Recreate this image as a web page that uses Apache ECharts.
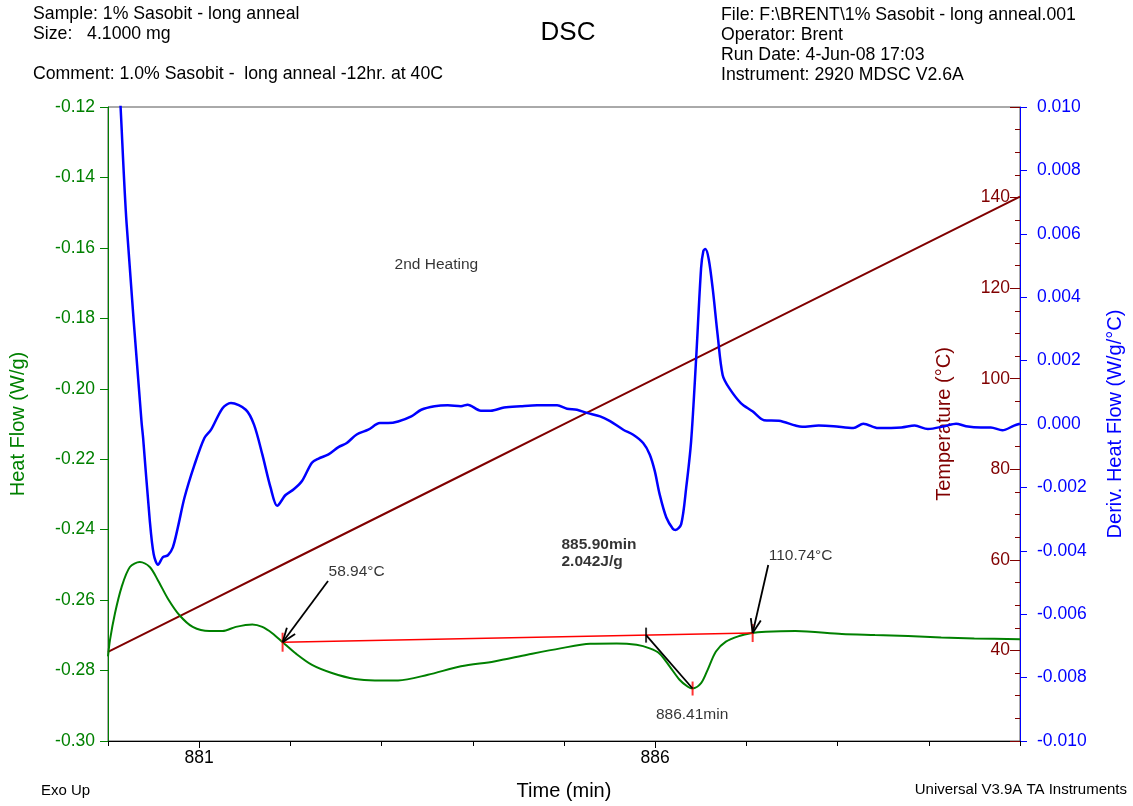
<!DOCTYPE html>
<html>
<head>
<meta charset="utf-8">
<script src="https://cdn.jsdelivr.net/npm/echarts@6/dist/echarts.min.js"></script>
<style>
  html, body { margin: 0; padding: 0; background: #fff; }
  #chart { width: 1133px; height: 806px; }
</style>
</head>
<body>
<div id="chart"></div>
<script>
// ---- Heat flow signal (W/g) vs time (min) ----
const heatFlowTime = [
  880.000, 880.022, 880.076, 880.149, 880.240, 880.349, 880.458, 880.548, 880.657, 880.784,
  880.929, 881.111, 881.256, 881.402, 881.583, 881.692, 881.801, 881.921, 882.056, 882.237,
  882.455, 882.709, 882.927, 883.181, 883.508, 883.870, 884.234, 884.597, 884.960, 885.287,
  885.577, 885.795, 885.940, 886.049, 886.158, 886.267, 886.358, 886.410, 886.503, 886.575,
  886.666, 886.775, 886.920, 887.048, 887.211, 887.538, 888.047, 888.410, 888.772, 889.136,
  889.499, 890.000
];
const heatFlowValue = [
  -0.2760, -0.2713, -0.2638, -0.2563, -0.2506, -0.2492, -0.2506, -0.2544, -0.2596, -0.2643,
  -0.2676, -0.2688, -0.2688, -0.2676, -0.2669, -0.2676, -0.2694, -0.2721, -0.2751, -0.2784,
  -0.2807, -0.2824, -0.2828, -0.2828, -0.2812, -0.2788, -0.2774, -0.2755, -0.2737, -0.2724,
  -0.2723, -0.2727, -0.2737, -0.2752, -0.2788, -0.2826, -0.2846, -0.2851, -0.2836, -0.2798,
  -0.2746, -0.2718, -0.2702, -0.2694, -0.2690, -0.2688, -0.2696, -0.2699, -0.2702, -0.2706,
  -0.2709, -0.2711
];

// ---- Derivative of heat flow (W/g/°C) vs time (min) ----
const derivTime = [
  880.109, 880.138, 880.203, 880.367, 880.385, 880.458, 880.501, 880.548, 880.602, 880.657,
  880.711, 880.766, 880.839, 880.948, 881.057, 881.130, 881.256, 881.348, 881.511, 881.601,
  881.692, 881.783, 881.855, 881.947, 882.037, 882.127, 882.236, 882.309, 882.418, 882.527,
  882.618, 882.727, 882.854, 882.981, 883.072, 883.181, 883.326, 883.435, 883.581, 883.725,
  883.870, 883.943, 884.088, 884.197, 884.343, 884.524, 884.706, 884.924, 885.033, 885.142,
  885.251, 885.396, 885.505, 885.650, 885.759, 885.868, 885.940, 885.995, 886.049, 886.122,
  886.195, 886.223, 886.285, 886.340, 886.394, 886.449, 886.503, 886.528, 886.550, 886.587,
  886.631, 886.685, 886.740, 886.812, 886.939, 887.067, 887.193, 887.356, 887.538, 887.611,
  887.792, 887.955, 888.173, 888.282, 888.445, 888.700, 888.845, 888.990, 889.172, 889.299,
  889.408, 889.571, 889.680, 889.807, 889.935, 890.000
];
const derivValue = [
  0.01163, 0.01000, 0.00636, 0.00009, -0.00044, -0.00304, -0.00411, -0.00444, -0.00420, -0.00414,
  -0.00389, -0.00326, -0.00232, -0.00129, -0.00044, -0.00018, 0.00050, 0.00066, 0.00045, -0.00002,
  -0.00096, -0.00201, -0.00258, -0.00224, -0.00206, -0.00180, -0.00122, -0.00109, -0.00096, -0.00073,
  -0.00060, -0.00033, -0.00018, 0.00003, 0.00003, 0.00008, 0.00024, 0.00045, 0.00056, 0.00059,
  0.00056, 0.00061, 0.00042, 0.00042, 0.00052, 0.00056, 0.00059, 0.00059, 0.00048, 0.00045,
  0.00035, 0.00024, 0.00009, -0.00018, -0.00034, -0.00060, -0.00096, -0.00148, -0.00222, -0.00295,
  -0.00331, -0.00334, -0.00316, -0.00201, -0.00054, 0.00207, 0.00491, 0.00546, 0.00552, 0.00520,
  0.00426, 0.00280, 0.00154, 0.00113, 0.00066, 0.00040, 0.00012, 0.00010, -0.00005, -0.00009,
  -0.00005, -0.00007, -0.00013, 0.00001, -0.00013, -0.00011, -0.00005, -0.00016, -0.00007, 0.00001,
  -0.00007, -0.00011, -0.00011, -0.00020, -0.00005, 0.00001
];

// ---- Sample temperature (°C) vs time (min) ----
const tempTime  = [880, 881, 882, 883, 884, 885, 886, 887, 888, 889, 890];
const tempValue = [39.7, 49.75, 59.8, 69.85, 79.9, 89.95, 100.0, 110.05, 120.1, 130.15, 140.2];

// ---- Labelled ticks on the time axis ----
const timeLabelTicks = [881, 886];

// ---- Peak integration results ----
const onsetTemp = 58.94;     // °C, baseline start
const endTemp = 110.74;      // °C, baseline end
const splitTime = 885.90;    // min, integration split
const peakTime = 886.41;     // min, peak minimum
const enthalpy = 2.042;      // J/g

const FONT = '"Liberation Sans", Arial, Helvetica, sans-serif';
const GREEN = '#008000', BLUE = '#0000ff', MAROON = '#800000', RED = '#ff0000';

function zip(xs, ys) { return xs.map((x, i) => [x, ys[i]]); }
function interp(xs, ys, x) {
  for (let i = 1; i < xs.length; i++) {
    if (x <= xs[i]) {
      const f = (x - xs[i - 1]) / (xs[i] - xs[i - 1]);
      return ys[i - 1] + f * (ys[i] - ys[i - 1]);
    }
  }
  return ys[ys.length - 1];
}

// baseline end points sit on the heat flow curve at the onset/end temperatures
const onsetTime = interp(tempValue, tempTime, onsetTemp);
const endTime = interp(tempValue, tempTime, endTemp);
const onsetHF = interp(heatFlowTime, heatFlowValue, onsetTime);
const endHF = interp(heatFlowTime, heatFlowValue, endTime);
const baselineAt = t => onsetHF + (t - onsetTime) / (endTime - onsetTime) * (endHF - onsetHF);
const peakHF = interp(heatFlowTime, heatFlowValue, peakTime);
const splitHF = baselineAt(splitTime);

// annotation arrow tails, offset from the point each arrow points at
const onsetHead = [onsetTime, onsetHF];
const endHead = [endTime, endHF];
const onsetTail = [onsetTime + 0.498, onsetHF + 0.0174];
const endTail = [endTime + 0.171, endHF + 0.0193];

const chart = echarts.init(document.getElementById('chart'), null, { renderer: 'canvas' });

const tickText = { fontFamily: FONT, fontSize: 17.5 };
const headerText = { fontFamily: FONT, fontSize: 17.7, lineHeight: 20, fill: '#000' };

const pointerLines = [
  { coords: [onsetTail, onsetHead] },
  { coords: [endTail, endHead] },
  { coords: [[splitTime, splitHF], [peakTime, peakHF]] }
];

chart.setOption({
  animation: false,
  backgroundColor: '#fff',
  textStyle: { fontFamily: FONT },
  grid: {
    left: 108, top: 107, width: 918, height: 638,
    show: true, borderColor: '#555', borderWidth: 1, backgroundColor: 'transparent',
    containLabel: false
  },
  graphic: [
    { type: 'text', left: 33, top: 4,
      style: { text: 'Sample: 1% Sasobit - long anneal\nSize:   4.1000 mg', ...headerText } },
    { type: 'text', left: 33, top: 64,
      style: { text: 'Comment: 1.0% Sasobit -  long anneal -12hr. at 40C', ...headerText } },
    { type: 'text', x: 568, y: 33,
      style: { text: 'DSC', fontFamily: FONT, fontSize: 26, fill: '#000', align: 'center', verticalAlign: 'middle' } },
    { type: 'text', left: 721, top: 5,
      style: { text: 'File: F:\\BRENT\\1% Sasobit - long anneal.001\nOperator: Brent\nRun Date: 4-Jun-08 17:03\nInstrument: 2920 MDSC V2.6A', ...headerText } },
    { type: 'text', x: 41, y: 791,
      style: { text: 'Exo Up', fontFamily: FONT, fontSize: 15, fill: '#000', verticalAlign: 'middle' } },
    { type: 'text', x: 1127, y: 790,
      style: { text: 'Universal V3.9A TA Instruments', fontFamily: FONT, fontSize: 15, fill: '#000', align: 'right', verticalAlign: 'middle' } }
  ],
  xAxis: [
    {
      type: 'value', min: 880, max: 890, position: 'bottom',
      axisLine: { show: true, onZero: false, lineStyle: { color: '#000', width: 1 } },
      axisTick: { show: true, customValues: timeLabelTicks, length: 7, lineStyle: { color: '#000' } },
      axisLabel: { customValues: timeLabelTicks, margin: 8, color: '#000', ...tickText },
      splitLine: { show: false },
      name: 'Time (min)', nameLocation: 'middle', nameGap: 40,
      nameTextStyle: { color: '#000', fontSize: 20, fontFamily: FONT }
    },
    {
      type: 'value', min: 880, max: 890, interval: 1, position: 'bottom',
      axisLine: { show: false, onZero: false },
      axisTick: { show: true, length: 5, lineStyle: { color: '#000' } },
      axisLabel: { show: false },
      splitLine: { show: false }
    }
  ],
  yAxis: [
    {
      type: 'value', min: -0.30, max: -0.12, interval: 0.02, position: 'left',
      axisLine: { show: true, onZero: false, lineStyle: { color: GREEN } },
      axisTick: { show: true, length: 8, lineStyle: { color: GREEN } },
      axisLabel: { color: GREEN, margin: 13, ...tickText, formatter: v => v.toFixed(2) },
      splitLine: { show: false },
      name: 'Heat Flow (W/g)', nameLocation: 'middle', nameGap: 80, nameRotate: 90,
      nameTextStyle: { color: GREEN, fontSize: 20, fontFamily: FONT }
    },
    {
      type: 'value', min: 20, max: 160, interval: 20, position: 'right',
      axisLine: { show: false, onZero: false },
      axisTick: { show: true, inside: true, length: 10, lineStyle: { color: MAROON } },
      minorTick: { show: true, splitNumber: 4, length: 5, lineStyle: { color: MAROON } },
      axisLabel: { inside: true, margin: 10, color: MAROON, showMinLabel: false, showMaxLabel: false, ...tickText },
      splitLine: { show: false },
      name: 'Temperature (°C)', nameLocation: 'middle', nameGap: -86, nameRotate: 90,
      nameTextStyle: { color: MAROON, fontSize: 20, fontFamily: FONT }
    },
    {
      type: 'value', min: -0.010, max: 0.010, interval: 0.002, position: 'right',
      axisLine: { show: true, onZero: false, lineStyle: { color: BLUE } },
      axisTick: { show: true, length: 7, lineStyle: { color: BLUE } },
      axisLabel: { color: BLUE, margin: 17, ...tickText,
                   formatter: v => (Math.abs(v) < 1e-9 ? 0 : v).toFixed(3) },
      splitLine: { show: false },
      name: 'Deriv. Heat Flow (W/g/°C)', nameLocation: 'middle', nameGap: 85, nameRotate: 90,
      nameTextStyle: { color: BLUE, fontSize: 20, fontFamily: FONT }
    }
  ],
  series: [
    {
      name: 'Temperature', type: 'line', xAxisIndex: 0, yAxisIndex: 1,
      data: zip(tempTime, tempValue), showSymbol: false,
      lineStyle: { color: MAROON, width: 2 }, z: 2
    },
    {
      name: 'Deriv. Heat Flow', type: 'line', xAxisIndex: 0, yAxisIndex: 2,
      data: zip(derivTime, derivValue), showSymbol: false, smooth: 0.3, clip: true,
      lineStyle: { color: BLUE, width: 2.5 }, z: 3
    },
    {
      name: 'Heat Flow', type: 'line', xAxisIndex: 0, yAxisIndex: 0,
      data: zip(heatFlowTime, heatFlowValue), showSymbol: false, smooth: 0.3,
      lineStyle: { color: GREEN, width: 2 }, z: 4
    },
    {
      id: 'baseline', name: 'Baseline', type: 'line', xAxisIndex: 0, yAxisIndex: 0,
      data: [onsetHead, endHead], showSymbol: false,
      lineStyle: { color: RED, width: 1.5 }, z: 5
    },
    {
      name: 'Limits', type: 'scatter', xAxisIndex: 0, yAxisIndex: 0, symbol: 'rect', z: 6,
      data: [
        { value: onsetHead, symbolSize: [2, 19], itemStyle: { color: RED } },
        { value: endHead, symbolSize: [2, 18], itemStyle: { color: RED } },
        { value: [peakTime, peakHF], symbolSize: [2, 14], itemStyle: { color: RED } },
        { value: [splitTime, splitHF], symbolSize: [2, 15], itemStyle: { color: '#000' } }
      ]
    },
    {
      id: 'pointers', name: 'Pointers', type: 'lines', coordinateSystem: 'cartesian2d',
      xAxisIndex: 0, yAxisIndex: 0, z: 7, symbol: 'none',
      lineStyle: { color: '#000', width: 1.8, opacity: 1, curveness: 0 },
      data: pointerLines
    },
    {
      name: 'Notes', type: 'scatter', xAxisIndex: 0, yAxisIndex: 0, symbolSize: 1,
      itemStyle: { color: 'rgba(0,0,0,0)' }, z: 8, silent: true,
      label: { show: true, color: '#000', fontFamily: FONT, fontSize: 15.5 },
      data: [
        { value: onsetTail, label: { formatter: onsetTemp.toFixed(2) + '°C', position: [0, 0], align: 'left', verticalAlign: 'bottom', offset: [1, -1] } },
        { value: endTail, label: { formatter: endTemp.toFixed(2) + '°C', position: [0, 0], align: 'left', verticalAlign: 'bottom', offset: [1, -1] } },
        { value: [peakTime, peakHF], label: { formatter: peakTime.toFixed(2) + 'min', position: [0, 0], align: 'center', verticalAlign: 'top', offset: [0, 19] } },
        { value: [884.978, -0.2419], label: { formatter: splitTime.toFixed(2) + 'min\n' + enthalpy.toFixed(3) + 'J/g', position: [0, 0], align: 'left', verticalAlign: 'top', fontWeight: 'bold', lineHeight: 17 } },
        { value: [883.148, -0.1648], label: { formatter: '2nd Heating', position: [0, 0], align: 'left', verticalAlign: 'middle' } }
      ]
    }
  ]
});

// Open arrow heads: two short strokes leaving each tip, built in screen space
// so the head keeps its shape whatever the axis scales are.
function arrowHead(tail, head, lenPx, halfAngleDeg) {
  const finder = { seriesId: 'baseline' };
  const p0 = chart.convertToPixel(finder, tail);
  const p1 = chart.convertToPixel(finder, head);
  const dir = Math.atan2(p0[1] - p1[1], p0[0] - p1[0]);
  const a = halfAngleDeg * Math.PI / 180;
  return [dir - a, dir + a].map(ang => ({
    coords: [head, chart.convertFromPixel(finder, [p1[0] + lenPx * Math.cos(ang), p1[1] + lenPx * Math.sin(ang)])]
  }));
}

chart.setOption({
  series: [{
    id: 'pointers',
    data: pointerLines
      .concat(arrowHead(onsetTail, onsetHead, 15, 20))
      .concat(arrowHead(endTail, endHead, 15, 20))
  }]
});
</script>
</body>
</html>
